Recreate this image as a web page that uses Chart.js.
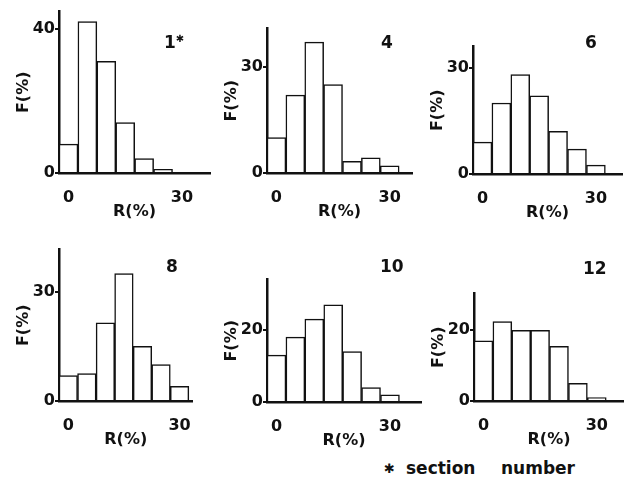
<!DOCTYPE html>
<html>
<head>
<meta charset="utf-8">
<script src="https://cdn.jsdelivr.net/npm/chart.js@4.4.0/dist/chart.umd.min.js"></script>
<style>
  body { margin: 0; background: #fff; }
  #wrap { position: relative; width: 624px; height: 480px; overflow: hidden; font-family: "DejaVu Sans", sans-serif; color: #111; background: #fff; }
  canvas { position: absolute; }
  .sec { position: absolute; font-size: 17px; font-weight: bold; line-height: 1; }
  .sec sup { font-size: 10px; vertical-align: 6px; }
  .note { position: absolute; font-weight: bold; line-height: 1; white-space: pre; }
</style>
</head>
<body>
<div id="wrap"></div>
<script>
"use strict";
// ========== DATA ========== //
const binCentres = [0, 5, 10, 15, 20, 25, 30]; // R (%) class midpoints
const sectionNames = ['1', '4', '6', '8', '10', '12'];
const freqSection1 = [8, 42, 31, 14, 4, 1, 0];
const freqSection4 = [10, 22, 37, 25, 3.3, 4.3, 2];
const freqSection6 = [9, 20, 28, 22, 12, 7, 2.5];
const freqSection8 = [7, 7.5, 21.5, 35, 15, 10, 4];
const freqSection10 = [13, 18, 23, 27, 14, 4, 2];
const freqSection12 = [17, 22.5, 20, 20, 15.5, 5, 1];
const freqSeries = [freqSection1, freqSection4, freqSection6, freqSection8, freqSection10, freqSection12];
const yLabelTicks = [40, 30, 30, 30, 20, 20]; // labelled F tick above 0
const xLabelTicks = [0, 30];

// ========== LAYOUT ========== //
const INK = '#111';
const AXIS_W = 46;  // room for F title + tick labels
const AXIS_H = 48;  // room for R tick labels + title
const PAD = 3;
// plot box of every panel: [left, top, right, bottom] and axis maxima
const panels = [
  { box: [59, 5, 210, 173], yMax: 44.8, xMax: 37.4, pos: [164, 34] },
  { box: [267, 22, 412, 173], yMax: 40.8, xMax: 35.9, pos: [381, 34] },
  { box: [473, 40, 622, 174], yMax: 35.9, xMax: 36.9, pos: [585, 34] },
  { box: [59, 243, 195, 401], yMax: 41.6, xMax: 33.5, pos: [166, 258] },
  { box: [267, 273, 421, 402], yMax: 34, xMax: 38.2, pos: [380, 258] },
  { box: [474, 287, 624, 401], yMax: 30.4, xMax: 37.2, pos: [583, 260] }
];

const tickFont = { family: 'DejaVu Sans', size: 16, weight: 'bold' };
const titleFont = { family: 'DejaVu Sans', size: 16, weight: 'bold' };
const wrap = document.getElementById('wrap');

function drawPanel(i) {
  const p = panels[i];
  const [l, t, r, b] = p.box;
  const w = r - l + AXIS_W + 2 * PAD;
  const h = b - t + AXIS_H + 2 * PAD;
  const canvas = document.createElement('canvas');
  canvas.width = w;
  canvas.height = h;
  canvas.style.left = (l - AXIS_W - PAD) + 'px';
  canvas.style.top = (t - PAD) + 'px';
  wrap.appendChild(canvas);

  new Chart(canvas, {
    type: 'bar',
    data: {
      datasets: [{
        data: binCentres.map((x, k) => ({ x: x, y: freqSeries[i][k] })),
        backgroundColor: '#fff',
        borderColor: INK,
        borderWidth: 1.5,
        barPercentage: 1,
        categoryPercentage: 1
      }]
    },
    options: {
      responsive: false,
      animation: false,
      layout: { padding: PAD },
      plugins: { legend: { display: false }, tooltip: { enabled: false } },
      scales: {
        x: {
          type: 'linear', min: -2.5, max: p.xMax, offset: false,
          grid: { display: false, offset: false },
          border: { display: true, color: INK, width: 2.5 },
          afterBuildTicks: s => { s.ticks = xLabelTicks.map(v => ({ value: v })); },
          afterFit: s => { s.height = AXIS_H; },
          ticks: { color: INK, font: tickFont, padding: 7, maxRotation: 0, autoSkip: false },
          title: { display: true, text: 'R(%)', color: INK, font: titleFont, padding: 0 }
        },
        y: {
          type: 'linear', min: 0, max: p.yMax,
          grid: { display: true, drawOnChartArea: false, drawTicks: true, tickLength: 4, color: INK, lineWidth: 2 },
          border: { display: true, color: INK, width: 2.5 },
          afterBuildTicks: s => { s.ticks = [0, yLabelTicks[i]].map(v => ({ value: v })); },
          afterFit: s => { s.width = AXIS_W; },
          ticks: { color: INK, font: tickFont, padding: 0, autoSkip: false },
          title: { display: true, text: 'F(%)', color: INK, font: titleFont, padding: 1 }
        }
      }
    }
  });

  // section number
  const lab = document.createElement('div');
  lab.className = 'sec';
  lab.style.left = p.pos[0] + 'px';
  lab.style.top = p.pos[1] + 'px';
  lab.innerHTML = sectionNames[i] + (i === 0 ? '<sup>✱</sup>' : '');
  wrap.appendChild(lab);
}

panels.forEach((p, i) => drawPanel(i));

// footnote
[['✱', 384, 462, 13], ['section', 406, 460, 17], ['number', 501, 460, 17]].forEach(n => {
  const d = document.createElement('div');
  d.className = 'note';
  d.textContent = n[0];
  d.style.left = n[1] + 'px';
  d.style.top = n[2] + 'px';
  d.style.fontSize = n[3] + 'px';
  wrap.appendChild(d);
});
</script>
</body>
</html>
